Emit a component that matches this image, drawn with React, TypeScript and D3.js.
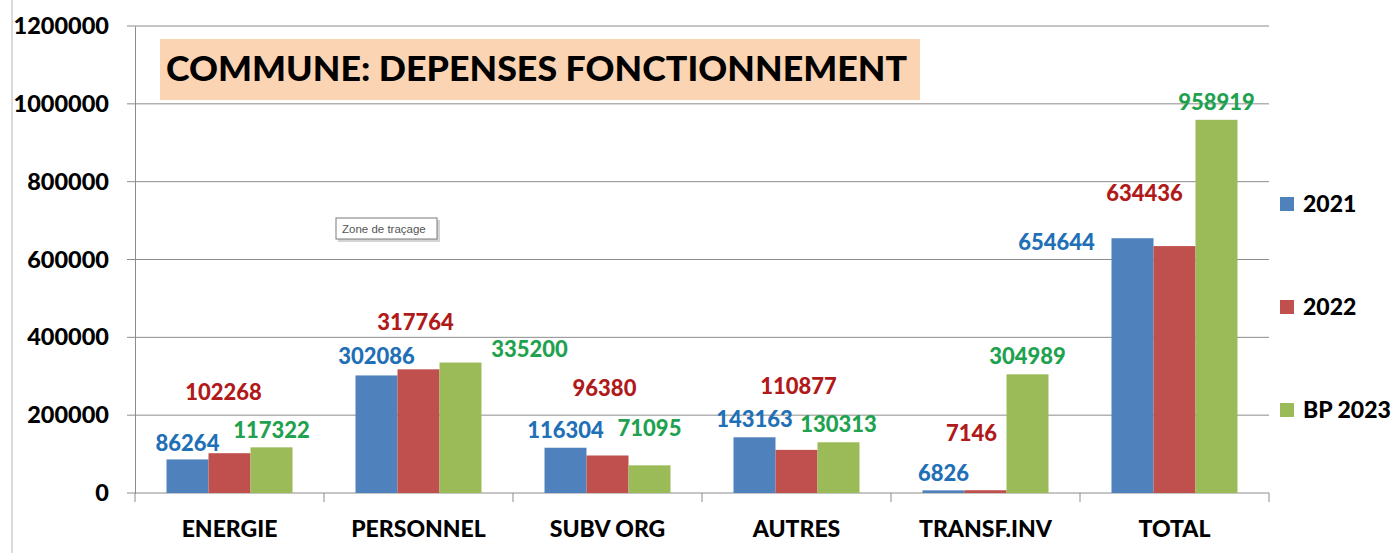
import { useEffect, useRef } from "react";
import * as d3 from "d3";

const categories = ["ENERGIE", "PERSONNEL", "SUBV ORG", "AUTRES", "TRANSF.INV", "TOTAL"];
const seriesNames = ["2021", "2022", "BP 2023"];
const values2021 = [86264, 302086, 116304, 143163, 6826, 654644];
const values2022 = [102268, 317764, 96380, 110877, 7146, 634436];
const valuesBP2023 = [117322, 335200, 71095, 130313, 304989, 958919];
const yTicks = [0, 200000, 400000, 600000, 800000, 1000000, 1200000];

const barColors = ["#4F81BD", "#C0504D", "#9BBB59"];
const labelColors = ["#1F70B6", "#B01A1A", "#1FA24F"];

// the data labels were dragged around by hand in the original, [dx, dy] nudges
const nudges2021 = [[0, 2], [0, -1], [0, 0], [0, 0], [0, 1], [-76, 22]];
const nudges2022 = [[-6, -43], [-3, -29], [-3, -49], [2, -46], [-14, -39], [-30, -35]];
const nudgesBP2023 = [[0, 1], [69, 4], [0, -19], [0, 0], [0, 0], [0, 0]];

const W = 1396;
const H = 553;
const margin = { top: 26, right: 127, bottom: 60, left: 135 };
const font = "Lato, 'Noto Sans', sans-serif";

export default function App() {
  const svgRef = useRef<SVGSVGElement>(null);

  useEffect(() => {
    const svg = d3.select(svgRef.current);
    svg.selectAll("*").remove();

    const series = [values2021, values2022, valuesBP2023];
    const nudges = [nudges2021, nudges2022, nudgesBP2023];

    const x0 = d3.scaleBand().domain(categories).range([margin.left, W - margin.right]);
    const x1 = d3
      .scaleBand()
      .domain(seriesNames)
      .range([x0.bandwidth() / 6, (x0.bandwidth() * 5) / 6]);
    const y = d3.scaleLinear().domain([0, 1200000]).range([H - margin.bottom, margin.top]);

    // left border of the chart area
    svg.append("line")
      .attr("x1", 12).attr("x2", 12).attr("y1", 0).attr("y2", H)
      .attr("stroke", "#b8b8b8");

    // gridlines + y ticks
    svg.append("g")
      .selectAll("line")
      .data(yTicks)
      .join("line")
      .attr("x1", margin.left - 8)
      .attr("x2", W - margin.right)
      .attr("y1", (d) => y(d))
      .attr("y2", (d) => y(d))
      .attr("stroke", "#8c8c8c")
      .attr("stroke-width", 1);

    const yAxis = svg.append("g")
      .attr("transform", `translate(${margin.left},0)`)
      .call(d3.axisLeft(y).tickValues(yTicks).tickSize(0).tickPadding(26).tickFormat(d3.format("d")));
    yAxis.select(".domain").attr("stroke", "#8c8c8c");
    yAxis.selectAll("text")
      .attr("font-family", font)
      .attr("font-weight", 900)
      .attr("font-size", 23.5)
      .attr("fill", "#000");

    // category boundary ticks under the x axis
    const bounds = categories.map((c) => x0(c)!).concat([W - margin.right]);
    svg.append("g")
      .selectAll("line")
      .data(bounds)
      .join("line")
      .attr("x1", (d) => d).attr("x2", (d) => d)
      .attr("y1", y(0)).attr("y2", y(0) + 9)
      .attr("stroke", "#8c8c8c");

    svg.append("g")
      .selectAll("text")
      .data(categories)
      .join("text")
      .attr("x", (d) => x0(d)! + x0.bandwidth() / 2)
      .attr("y", 537)
      .attr("text-anchor", "middle")
      .attr("font-family", font)
      .attr("font-weight", 900)
      .attr("font-size", 23)
      .text((d) => d);

    // bars
    seriesNames.forEach((s, si) => {
      svg.append("g")
        .selectAll("rect")
        .data(series[si])
        .join("rect")
        .attr("x", (d, i) => x0(categories[i])! + x1(s)!)
        .attr("y", (d) => y(d))
        .attr("width", x1.bandwidth())
        .attr("height", (d) => y(0) - y(d))
        .attr("fill", barColors[si]);
    });

    // data labels
    seriesNames.forEach((s, si) => {
      svg.append("g")
        .selectAll("text")
        .data(series[si])
        .join("text")
        .attr("x", (d, i) => x0(categories[i])! + x1(s)! + x1.bandwidth() / 2 + nudges[si][i][0])
        .attr("y", (d, i) => y(d) - 10 + nudges[si][i][1])
        .attr("text-anchor", "middle")
        .attr("font-family", font)
        .attr("font-weight", 900)
        .attr("font-size", 22)
        .attr("fill", labelColors[si])
        .text((d) => d);
    });

    // title box
    const title = svg.append("g");
    title.append("rect")
      .attr("x", 160).attr("y", 39).attr("width", 760).attr("height", 61)
      .attr("fill", "#FBD4B4");
    title.append("text")
      .attr("x", 166).attr("y", 81)
      .attr("font-family", font)
      .attr("font-weight", 900)
      .attr("font-size", 35)
      .attr("textLength", 741)
      .attr("lengthAdjust", "spacingAndGlyphs")
      .text("COMMUNE: DEPENSES FONCTIONNEMENT");

    // legend
    const legend = svg.append("g");
    seriesNames.forEach((s, si) => {
      const ly = 204 + si * 103;
      legend.append("rect")
        .attr("x", 1280).attr("y", ly - 7).attr("width", 14).attr("height", 14)
        .attr("fill", barColors[si]);
      legend.append("text")
        .attr("x", 1303).attr("y", ly + 8)
        .attr("font-family", font)
        .attr("font-weight", 900)
        .attr("font-size", 23)
        .text(s);
    });

    // the "Zone de traçage" tooltip caught in the screenshot
    const tip = svg.append("g");
    tip.append("rect")
      .attr("x", 338).attr("y", 220).attr("width", 102).attr("height", 22)
      .attr("fill", "#d4d4d4");
    tip.append("rect")
      .attr("x", 336).attr("y", 218).attr("width", 101).attr("height", 21)
      .attr("fill", "#fff").attr("stroke", "#7a7a7a");
    tip.append("text")
      .attr("x", 342).attr("y", 233)
      .attr("font-family", "'Liberation Sans', Arial, sans-serif")
      .attr("font-size", 11.5)
      .attr("fill", "#555")
      .text("Zone de traçage");
  }, []);

  return (
    <svg
      ref={svgRef}
      width={W}
      height={H}
      style={{ position: "absolute", left: 0, top: 0, background: "#fff" }}
    />
  );
}
